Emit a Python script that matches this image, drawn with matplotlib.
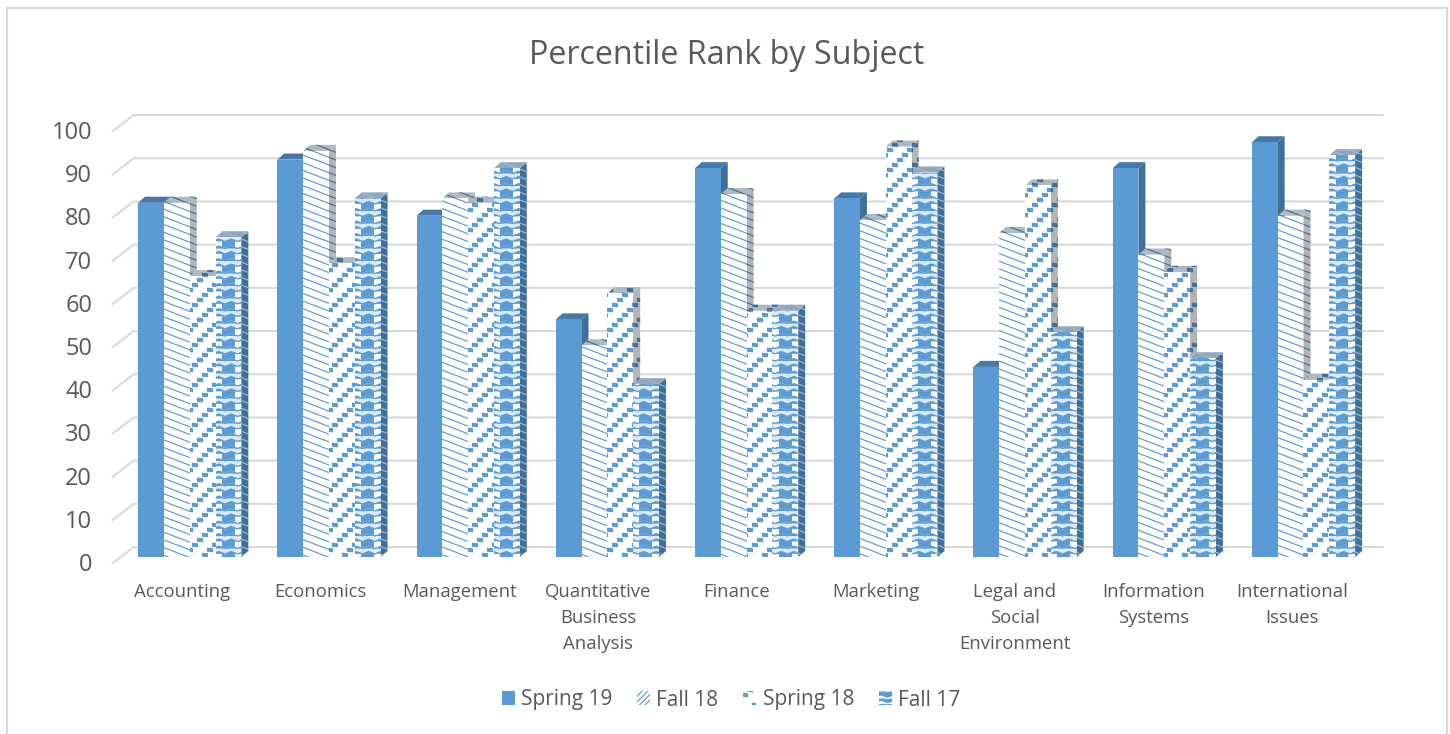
import numpy as np
import matplotlib
matplotlib.use("Agg")
import matplotlib.pyplot as plt
import matplotlib.hatch as mh
from matplotlib.path import Path
from matplotlib.patches import Polygon, Patch
from matplotlib.lines import Line2D
from matplotlib.transforms import ScaledTranslation

TITLE = "Percentile Rank by Subject"
categories = ["Accounting", "Economics", "Management", "Quantitative\nBusiness\nAnalysis",
              "Finance", "Marketing", "Legal and\nSocial\nEnvironment",
              "Information\nSystems", "International\nIssues"]
series_names = ["Spring 19", "Fall 18", "Spring 18", "Fall 17"]
spring19 = [82, 92, 79, 55, 90, 83, 44, 90, 96]
fall18 = [82, 94, 83, 49, 84, 78, 75, 70, 79]
spring18 = [65, 68, 82, 61, 57, 95, 86, 66, 41]
fall17 = [74, 83, 90, 40, 57, 89, 52, 46, 93]
yticks = [0, 10, 20, 30, 40, 50, 60, 70, 80, 90, 100]

BLUE = "#5B9BD5"
DARK = "#3F6F9B"
TOP = "#4578A6"
GRAY = "#B4B4B4"
TXT = "#595959"
GRID = "#D9D9D9"
DPI = 100
plt.rcParams["font.family"] = ["Open Sans", "DejaVu Sans"]
plt.rcParams["hatch.linewidth"] = 0.85


# ---- custom tile patterns (the tile is one inch = 100 px) ----
class Tile(mh.HatchPatternBase):
    char = ""
    verts = np.zeros((0, 2))
    codes = np.zeros(0, dtype=Path.code_type)

    def __init__(self, hatch, density):
        self.num_vertices = len(self.verts) if self.char in hatch else 0

    def set_vertices_and_codes(self, vertices, codes):
        vertices[:] = self.verts
        codes[:] = self.codes


def polyline_arrays(lines):
    v, c = [], []
    for ln in lines:
        v.extend(ln)
        c.extend([Path.MOVETO] + [Path.LINETO] * (len(ln) - 1))
    return np.array(v, float), np.array(c, dtype=Path.code_type)


def closed_arrays(polys):
    v, c = [], []
    for p in polys:
        v.extend(p)
        v.append(p[0])
        c.extend([Path.MOVETO] + [Path.LINETO] * (len(p) - 1) + [Path.CLOSEPOLY])
    return np.array(v, float), np.array(c, dtype=Path.code_type)


class Stripes(Tile):
    char = "\\"
    verts, codes = polyline_arrays([[(0, i / 13), (1, i / 13 - 5 / 13)] for i in range(0, 19)])


def _bricks():
    pts = set()
    for i in range(20):
        for j in range(20):
            pts.add(((5 * i + 15 * j) % 100, (5 * i - 5 * j) % 100))
    w, h = 0.025, 0.017
    polys = []
    for (x, y) in sorted(pts):
        for ox in (-1, 0, 1):
            for oy in (-1, 0, 1):
                cx, cy = x / 100 + ox, y / 100 + oy
                if -w < cx < 1 + w and -h < cy < 1 + h:
                    polys.append([(cx - w, cy - h + .005), (cx + w, cy - h),
                                  (cx + w, cy + h - .005), (cx - w, cy + h)])
    return closed_arrays(polys)


class Bricks(Tile):
    char = "o"
    verts, codes = _bricks()


def _zig(y0, n=8, amp=0.012):
    return [(k / (2 * n), y0 + (amp if k % 2 else -amp)) for k in range(2 * n + 1)]


class ZigLines(Tile):
    char = "-"
    verts, codes = polyline_arrays(
        [_zig(r / 8 + .027) for r in range(9)] + [_zig(r / 8 - .027) for r in range(9)])


class ZigBand(Tile):
    char = "O"
    verts, codes = closed_arrays(
        [_zig(r / 8 + .027) + _zig(r / 8 - .027)[::-1] for r in range(9)])


mh._hatch_types[:] = [mh.NorthEastHatch, Stripes, Bricks, ZigLines, ZigBand]

# ---- figure and scales ----
W, H = 1450, 734
fig = plt.figure(figsize=(W / DPI, H / DPI), dpi=DPI, facecolor="white")
L, R, B, T = 113, 1366, 557, 125
ax = fig.add_axes([L / W, 1 - B / H, (R - L) / W, (B - T) / H])
ax.set_xlim(-0.5, 8.5)
ax.set_ylim(0, 100)
for s in ax.spines.values():
    s.set_visible(False)
ax.patch.set_alpha(0)

# chart frame, open at the bottom
for xs, ys in (([7, 7], [734, 8]), ([7, 1447], [8, 8]), ([1447, 1447], [8, 734])):
    fig.add_artist(Line2D([x / W for x in xs], [1 - y / H for y in ys], color=GRID, lw=1.5))

# gridlines with the perspective wall
for v in yticks:
    ax.plot([-0.5, -0.352, 8.62], [v - 1.4, v + 2.3, v + 2.3], color=GRID, lw=1.5,
            clip_on=False, zorder=1, solid_joinstyle="round")

# ---- 3-D bars ----
OFF = -0.32
BW = 0.1855
DX = 0.05
DY = 1.4
series = [spring19, fall18, spring18, fall17]
hatches = [None, "\\", "o", None]
z = 10


def depth_faces(x0, v, z, base, hatch=None, hatch_col=DARK):
    side = [(x0 + BW, 0), (x0 + BW + DX, DY), (x0 + BW + DX, v + DY), (x0 + BW, v)]
    top = [(x0, v), (x0 + DX, v + DY), (x0 + BW + DX, v + DY), (x0 + BW, v)]
    for pts, col in ((side, base[0]), (top, base[1])):
        ax.add_patch(Polygon(pts, closed=True, facecolor=col, edgecolor="none", lw=0,
                             zorder=z, clip_on=False))
        if hatch:
            ax.add_patch(Polygon(pts, closed=True, facecolor="none", edgecolor=hatch_col, hatch=hatch,
                                 lw=0, zorder=z, clip_on=False))


for i in range(len(categories)):
    for k, vals in enumerate(series):
        v = vals[i]
        x0 = i + OFF + k * BW
        if k == 0:
            depth_faces(x0, v, z, (DARK, TOP))
            ax.bar(x0, v, BW, align="edge", color=BLUE, lw=0, zorder=z + .5, clip_on=False)
        elif k in (1, 2):
            depth_faces(x0, v, z, (GRAY, "#AEB9C4"), hatches[k], DARK)
            ax.bar(x0, v, BW, align="edge", facecolor="white", edgecolor=BLUE, hatch=hatches[k],
                   lw=0, zorder=z + .5, clip_on=False)
        else:
            depth_faces(x0, v, z, (DARK, "#8FA8BF"), "\\", "#A9B6C2")
            ax.bar(x0, v, BW, align="edge", color="white", lw=0, zorder=z + .5, clip_on=False)
            ax.bar(x0 + BW * .24, v, BW * .5, align="edge", color=BLUE, lw=0, zorder=z + .6, clip_on=False)
            ax.bar(x0, v, BW, align="edge", facecolor="none", edgecolor="#DCEAF6", hatch="O",
                   lw=0, zorder=z + .7, clip_on=False)
            ax.bar(x0, v, BW, align="edge", facecolor="none", edgecolor=BLUE, hatch="-",
                   lw=0, zorder=z + .8, clip_on=False)
        z += 1

# ---- text ----
ax.set_title(TITLE, fontsize=23.2, color=TXT, x=0.49, pad=44)
ax.set_yticks(yticks, [str(t) for t in yticks])
ax.set_xticks(range(len(categories)), categories)
ax.tick_params(axis="both", length=0)
ax.tick_params(axis="y", labelsize=17, labelcolor=TXT, pad=15)
ax.tick_params(axis="x", labelsize=13.3, labelcolor=TXT, pad=18.5)
shift = ScaledTranslation(0, -5 / DPI, fig.dpi_scale_trans)
for lab in ax.get_yticklabels():
    lab.set_transform(lab.get_transform() + shift)
for n, lab in enumerate(ax.get_xticklabels()):
    lab.set_linespacing(1.58)
    lab.set_transform(lab.get_transform() + ScaledTranslation((-1 - .4 * n) / DPI, 0, fig.dpi_scale_trans))

handles = [Patch(facecolor=BLUE, edgecolor="none"),
           Patch(facecolor="white", edgecolor=BLUE, hatch="//////", lw=0),
           Patch(facecolor="white", edgecolor=BLUE, hatch="o", lw=0),
           Patch(facecolor=BLUE, edgecolor="white", hatch="-", lw=0)]
fs = 15
leg = ax.legend(handles, series_names, ncol=4, frameon=False, fontsize=fs, labelcolor=TXT,
                loc="center", bbox_to_anchor=(731 / W, 1 - 700 / H), bbox_transform=fig.transFigure,
                handlelength=9.4 / fs, handleheight=9.4 / fs, handletextpad=0.29,
                columnspacing=1.2, borderpad=0, borderaxespad=0)
fig.savefig("out.png", dpi=DPI, facecolor="white")
